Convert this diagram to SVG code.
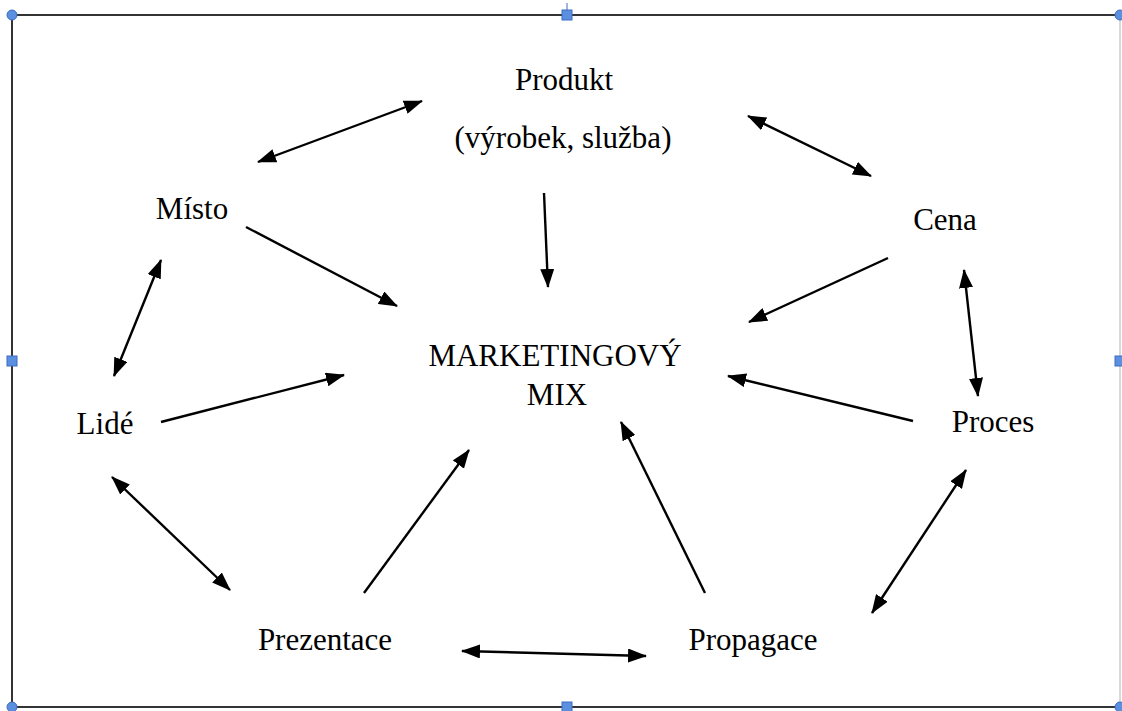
<svg xmlns="http://www.w3.org/2000/svg" width="1122" height="711" viewBox="0 0 1122 711">
<style>
.lbl{font-family:"Liberation Serif","Times New Roman",serif;font-size:31px;fill:#000;text-anchor:middle}
.c{stroke:#000;stroke-width:2.4;fill:none}
.h{fill:#5b8fe0;stroke:#3c6cc0;stroke-width:1}
</style>
<defs>
<marker id="ah" viewBox="0 0 19 14" refX="18" refY="7" markerWidth="19" markerHeight="14" markerUnits="userSpaceOnUse" orient="auto-start-reverse">
<path d="M0,0 L19,7 L0,14 Z" fill="#000"/>
</marker>
</defs>
<rect x="0" y="0" width="1122" height="711" fill="#fff"/>
<g id="frame">
<line x1="12" y1="15" x2="1120" y2="15" stroke="#333" stroke-width="2"/>
<line x1="12" y1="15" x2="12" y2="707" stroke="#333" stroke-width="2"/>
<line x1="12" y1="707" x2="1120" y2="707" stroke="#333" stroke-width="2"/>
<line x1="1120" y1="15" x2="1120" y2="707" stroke="#ccc" stroke-width="1.5"/>
<line x1="567" y1="3" x2="567" y2="12" stroke="#3c6cc0" stroke-width="1"/>
<circle class="h" cx="12" cy="15" r="5"/>
<circle class="h" cx="1120" cy="15" r="5"/>
<circle class="h" cx="12" cy="707" r="5"/>
<circle class="h" cx="1120" cy="707" r="5"/>
<rect class="h" x="562" y="10" width="10" height="10"/>
<rect class="h" x="7" y="356" width="10" height="10"/>
<rect class="h" x="1115" y="356" width="10" height="10"/>
<rect class="h" x="562" y="702" width="10" height="10"/>
</g>
<g id="connectors">
<line class="c" x1="258" y1="162" x2="422" y2="101" marker-start="url(#ah)" marker-end="url(#ah)"/>
<line class="c" x1="748" y1="116" x2="871" y2="176" marker-start="url(#ah)" marker-end="url(#ah)"/>
<line class="c" x1="544" y1="193" x2="548" y2="287" marker-end="url(#ah)"/>
<line class="c" x1="246" y1="227" x2="397" y2="306" marker-end="url(#ah)"/>
<line class="c" x1="888" y1="258" x2="749" y2="322" marker-end="url(#ah)"/>
<line class="c" x1="161" y1="260" x2="114" y2="376" marker-start="url(#ah)" marker-end="url(#ah)"/>
<line class="c" x1="964" y1="270" x2="978" y2="396" marker-start="url(#ah)" marker-end="url(#ah)"/>
<line class="c" x1="161" y1="422" x2="344" y2="375" marker-end="url(#ah)"/>
<line class="c" x1="913" y1="421" x2="728" y2="376" marker-end="url(#ah)"/>
<line class="c" x1="112" y1="477" x2="230" y2="590" marker-start="url(#ah)" marker-end="url(#ah)"/>
<line class="c" x1="364" y1="593" x2="469" y2="450" marker-end="url(#ah)"/>
<line class="c" x1="705" y1="593" x2="621" y2="422" marker-end="url(#ah)"/>
<line class="c" x1="966" y1="470" x2="872" y2="613" marker-start="url(#ah)" marker-end="url(#ah)"/>
<line class="c" x1="462" y1="651" x2="646" y2="656" marker-start="url(#ah)" marker-end="url(#ah)"/>
</g>
<g id="produkt"><text class="lbl" x="564" y="90">Produkt</text><text class="lbl" x="563" y="148">(výrobek, služba)</text></g>
<g id="misto"><text class="lbl" x="192" y="219">Místo</text></g>
<g id="cena"><text class="lbl" x="945" y="230">Cena</text></g>
<g id="mix"><text class="lbl" x="555" y="366">MARKETINGOVÝ</text><text class="lbl" x="557" y="405">MIX</text></g>
<g id="lide"><text class="lbl" x="105" y="434">Lidé</text></g>
<g id="proces"><text class="lbl" x="993" y="432">Proces</text></g>
<g id="prezentace"><text class="lbl" x="325" y="650">Prezentace</text></g>
<g id="propagace"><text class="lbl" x="753" y="650">Propagace</text></g>
</svg>
